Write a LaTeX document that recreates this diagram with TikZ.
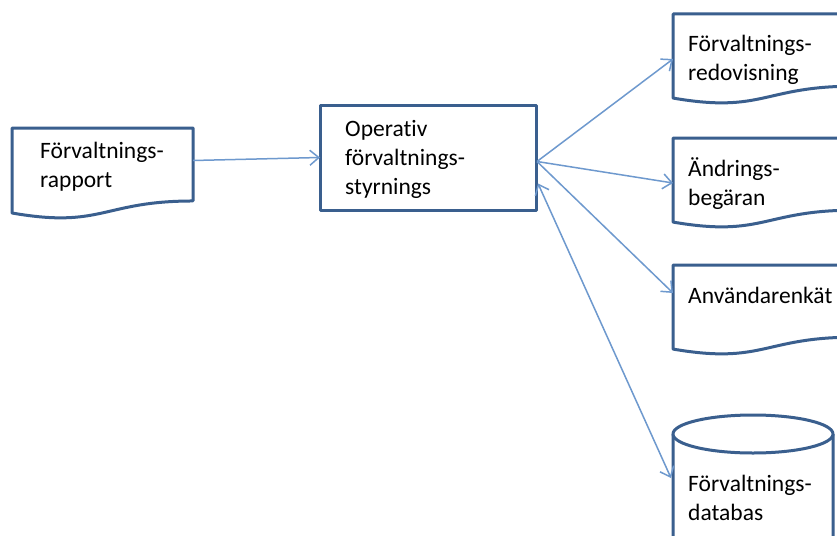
\documentclass[tikz,border=0pt]{standalone}
\usepackage{fontspec}
\setmainfont{Carlito}
\usetikzlibrary{arrows.meta,calc}
\definecolor{boxline}{HTML}{3A5F8E}
\definecolor{arrowline}{HTML}{6E99CE}
\newcommand\mytxt[1]{\fontsize{23.5}{29}\selectfont\begin{tabular}[t]{@{}l@{}}#1\end{tabular}}
\newcommand\docpath[1]{%
  \draw[shapeline] (#1.north west) -- (#1.north east)
    -- ($(#1.north east)!0.802!(#1.south east)$)
    .. controls ($(#1.north)!0.802!(#1.south)$) and ($(#1.north)!1.1075!(#1.south)$)
    .. ($(#1.north west)!0.934!(#1.south west)$) -- cycle;}
\begin{document}
\begin{tikzpicture}[x=1pt,y=-1pt,
  frame/.style={draw=none,inner sep=0,outer sep=0,anchor=north west},
  shapeline/.style={draw=boxline,line width=3pt,fill=white,line join=round},
  label/.style={anchor=base west,inner sep=0,text=black},
  conn/.style={draw=arrowline,line width=1.5pt,-{Straight Barb[length=9pt,width=15pt,line width=1.5pt]}},
  conn2/.style={draw=arrowline,line width=1.5pt,{Straight Barb[length=9pt,width=15pt,line width=1.5pt]}-{Straight Barb[length=9pt,width=15pt,line width=1.5pt]}}]
\useasboundingbox (0,0) rectangle (837,535);
\clip (0,0) rectangle (837,535);
\fill[white] (0,0) rectangle (837,535);
% frames
\node[frame,minimum width=181pt,minimum height=91pt] (rap) at (12,128) {};
\node[frame,minimum width=216pt,minimum height=105pt] (op) at (320,105) {};
\node[frame,minimum width=181pt,minimum height=90pt] (d1) at (673,14) {};
\node[frame,minimum width=181pt,minimum height=90pt] (d2) at (673,138) {};
\node[frame,minimum width=181pt,minimum height=90pt] (d3) at (673,265) {};
\node[frame,minimum width=160pt,minimum height=150pt] (db) at (673,415) {};
% shapes
\docpath{rap}
\draw[shapeline] (op.north west) rectangle (op.south east);
\docpath{d1}
\docpath{d2}
\docpath{d3}
\draw[shapeline] ($(db.north west)+(0,19)$) -- ($(db.south west)+(0,0)$)
  arc[start angle=180,end angle=360,x radius=80pt,y radius=19pt]
  -- ($(db.north east)+(0,19)$);
\draw[shapeline] ($(db.north)+(0,19)$) ellipse[x radius=80pt,y radius=19pt];
% texts
\node[label] (t1) at (40,158) {\mytxt{Förvaltnings-\\rapport}};
\node[label] (t2) at (345,136) {\mytxt{Operat\kern0pt iv\\förvaltnings-\\styrnings}};
\node[label] (t3) at (688,52) {\mytxt{Förvaltnings-\\redovisning}};
\node[label] (t4) at (688,176) {\mytxt{Ändrings-\\begäran}};
\node[label] (t5) at (688,303) {\mytxt{Användarenkät}};
\node[label] (t6) at (688,491) {\mytxt{Förvaltnings-\\databas}};
% connectors
\draw[conn] ($(rap.east)+(0,-13)$) -- ($(op.west)+(0,0)$);
\draw[conn] ($(op.east)+(1,4)$) -- (d1.west);
\draw[conn] ($(op.east)+(1,4)$) -- (d2.west);
\draw[conn] ($(op.east)+(1,4)$) -- ($(d3.west)+(0,-17)$);
\draw[conn2] ($(op.east)+(2,26)$) -- ($(db.north west)+(-2,63)$);
\end{tikzpicture}
\end{document}
